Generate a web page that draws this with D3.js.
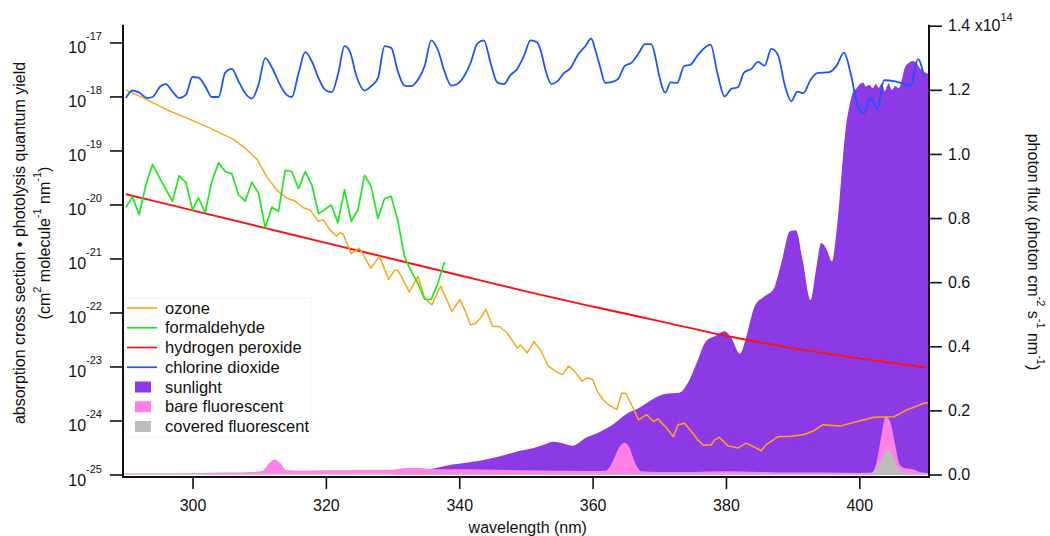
<!DOCTYPE html>
<html>
<head>
<meta charset="utf-8">
<script src="https://cdn.jsdelivr.net/npm/d3@7"></script>
<style>
  html, body { margin: 0; padding: 0; background: #fff; }
  svg { display: block; font-family: "Liberation Sans", Arial, Helvetica, sans-serif; }
</style>
</head>
<body>
<svg id="chart" width="1050" height="536"></svg>
<script>
// Absorption cross sections are stored as log10(cm^2 molecule^-1 nm^-1).
const ozoneWl = [290.0,292.7,296.2,299.7,302.7,306.2,308.2,309.7,311.1,312.6,314.1,315.4,316.6,317.6,318.9,319.6,320.6,321.6,322.1,322.6,323.8,325.0,325.6,326.7,328.0,328.5,329.4,330.3,330.8,331.4,332.5,333.8,334.8,335.9,337.2,337.9,338.9,340.1,340.9,341.7,342.5,343.2,344.0,345.0,346.0,347.2,348.7,349.2,350.2,351.2,352.2,353.4,354.7,355.5,356.4,357.3,358.4,359.2,360.0,360.7,361.6,362.3,363.6,364.4,365.0,365.8,366.9,368.1,369.1,369.8,371.1,372.1,372.8,373.8,374.8,375.8,376.6,377.8,378.3,379.0,380.3,381.8,383.0,384.2,385.3,386.0,387.8,389.8,391.7,393.0,394.5,397.2,399.7,402.2,405.2,407.2,409.7,410.3];
const ozoneLog = [-17.88,-18.03,-18.25,-18.43,-18.59,-18.80,-18.99,-19.17,-19.48,-19.73,-19.88,-19.94,-20.06,-20.10,-20.31,-20.28,-20.47,-20.59,-20.52,-20.55,-20.91,-20.81,-20.93,-21.18,-20.97,-21.10,-21.39,-21.22,-21.22,-21.35,-21.62,-21.33,-21.73,-21.86,-21.51,-21.70,-21.98,-21.76,-21.97,-22.23,-22.20,-22.10,-21.94,-22.26,-22.26,-22.38,-22.66,-22.60,-22.75,-22.54,-22.70,-23.00,-23.11,-23.15,-22.99,-23.09,-23.27,-23.21,-23.24,-23.46,-23.62,-23.70,-23.80,-23.49,-23.50,-23.70,-23.99,-23.89,-24.02,-23.97,-24.14,-24.30,-24.08,-24.05,-24.20,-24.36,-24.46,-24.45,-24.36,-24.31,-24.47,-24.51,-24.42,-24.49,-24.56,-24.45,-24.30,-24.29,-24.26,-24.20,-24.08,-24.10,-24.02,-23.94,-23.93,-23.80,-23.68,-23.67];

const formWl = [290.0,291.0,292.0,293.0,294.0,295.2,297.0,298.0,299.0,300.0,300.9,301.9,302.9,303.9,304.9,305.9,306.9,307.9,308.9,309.9,310.9,311.9,312.9,313.9,314.9,315.9,316.9,317.9,318.9,320.8,321.8,322.8,323.8,324.8,325.8,326.8,327.8,328.8,329.8,330.8,331.8,332.8,333.8,334.8,335.8,336.8,337.8];
const formLog = [-20.05,-19.86,-20.19,-19.64,-19.26,-19.54,-19.94,-19.47,-19.59,-20.10,-19.88,-20.15,-19.57,-19.23,-19.39,-19.43,-19.82,-19.94,-19.59,-19.79,-20.43,-20.05,-20.13,-19.37,-19.39,-19.71,-19.39,-19.64,-20.17,-20.01,-20.34,-19.73,-20.31,-20.10,-19.46,-19.67,-20.26,-19.89,-19.85,-20.31,-20.97,-21.24,-21.46,-21.75,-21.76,-21.46,-21.06];

const peroxWl = [290,300,310,320,330,340,350,360,370,380,390,400,410];
const peroxLog = [-19.81,-20.11,-20.41,-20.71,-21.01,-21.31,-21.61,-21.89,-22.16,-22.43,-22.66,-22.85,-23.02];

const clo2Wl = [290.0,291.0,292.0,293.2,294.0,295.2,296.0,297.0,298.0,299.0,300.0,300.9,301.9,302.9,303.9,304.9,305.9,306.9,307.9,308.9,309.9,310.9,312.1,313.1,314.1,314.9,315.9,316.9,317.9,318.9,319.9,320.9,321.8,322.8,323.6,324.6,325.8,326.8,327.8,328.8,329.8,330.8,331.8,332.8,333.8,334.8,335.8,336.8,337.8,338.8,339.7,340.7,341.7,342.7,343.7,344.7,345.7,346.7,347.7,348.7,349.7,350.7,351.7,352.2,352.9,353.8,354.7,355.7,356.7,357.9,358.9,359.8,360.4,361.1,361.9,362.9,363.8,364.8,365.9,366.9,367.9,368.8,369.4,369.9,370.9,371.7,372.7,373.7,374.7,375.8,377.7,378.7,379.8,380.8,381.8,382.7,383.8,384.8,385.8,386.8,387.8,388.8,389.8,390.7,391.6,392.7,393.7,395.5,396.6,397.7,398.7,399.7,400.7,401.7,402.7,403.7,405.4,407.7,408.8,409.7];
const clo2Log = [-18.03,-17.89,-17.93,-18.03,-18.01,-17.81,-17.77,-17.91,-18.03,-17.97,-17.64,-17.65,-17.81,-18.01,-18.01,-17.56,-17.49,-17.72,-17.94,-18.04,-17.78,-17.29,-17.51,-17.78,-17.97,-18.01,-17.57,-17.18,-17.35,-17.66,-17.88,-17.92,-17.60,-17.07,-17.17,-17.63,-17.89,-17.81,-17.66,-17.07,-17.10,-17.54,-17.80,-17.81,-17.69,-17.44,-16.96,-17.14,-17.54,-17.80,-17.77,-17.63,-17.38,-17.02,-16.96,-17.38,-17.74,-17.77,-17.60,-17.49,-17.25,-16.96,-17.00,-17.14,-17.49,-17.77,-17.72,-17.57,-17.47,-17.21,-17.07,-16.93,-17.14,-17.44,-17.75,-17.73,-17.68,-17.44,-17.37,-17.20,-17.03,-17.03,-17.26,-17.57,-17.93,-17.74,-17.75,-17.44,-17.41,-17.23,-17.04,-17.56,-18.00,-17.86,-17.83,-17.56,-17.49,-17.36,-17.43,-17.12,-17.23,-17.78,-18.09,-17.91,-17.94,-17.69,-17.57,-17.55,-17.43,-17.19,-17.57,-18.15,-18.31,-18.03,-18.23,-17.70,-17.72,-17.80,-17.31,-17.63];

// Photon flux, in units of 1e14 photon cm^-2 s^-1 nm^-1.
const sunWl = [330,333,336,339,342,344,347,349,351,353,354,355,357,359,361,363,365,367,369,371,373,374.3,375.6,377,378.3,379.8,380.8,382.1,383,384.3,385.8,387.1,388.3,389.6,390.5,391.5,392.7,393.5,394.3,395.1,395.9,396.5,397.0,397.5,398.0,398.5,399.0,399.6,400.1,400.6,401.0,401.5,402.0,402.5,402.9,403.4,403.8,404.4,404.9,405.4,405.9,406.4,406.8,407.4,408.0,408.5,408.9,409.4,410.3];
const sunFlux = [0,0.006,0.018,0.031,0.040,0.047,0.062,0.073,0.082,0.095,0.102,0.100,0.090,0.115,0.132,0.155,0.188,0.208,0.235,0.252,0.255,0.286,0.348,0.416,0.431,0.447,0.426,0.377,0.426,0.525,0.556,0.577,0.660,0.759,0.762,0.670,0.544,0.639,0.722,0.702,0.665,0.743,0.850,0.980,1.086,1.148,1.190,1.205,1.218,1.222,1.210,1.216,1.205,1.218,1.206,1.221,1.196,1.220,1.200,1.212,1.205,1.232,1.268,1.284,1.290,1.285,1.273,1.260,1.250];

const bareWl = [289.7,295,300,305,309,310.5,311.5,312.3,313.2,314,316,320,325,330,332,334,336,340,350,360,362,363,364,364.7,365.5,366.3,367.3,370,375,380,385,390,395,400,401.8,402.6,403.3,404,404.7,405.4,406.1,406.8,408,409,410.3];
const bareFlux = [0.002,0.003,0.004,0.006,0.008,0.012,0.035,0.047,0.035,0.014,0.012,0.013,0.014,0.015,0.020,0.020,0.016,0.016,0.013,0.011,0.012,0.040,0.085,0.099,0.085,0.040,0.010,0.008,0.008,0.010,0.008,0.006,0.006,0.005,0.006,0.040,0.120,0.182,0.160,0.090,0.030,0.020,0.016,0.008,0.005];

const coveredWl = [289.7,320,350,380,400,401.8,402.6,403.5,404.2,405,405.8,406.5,410.3];
const coveredFlux = [0.003,0.003,0.003,0.003,0.003,0.004,0.020,0.055,0.078,0.060,0.020,0.008,0.004];

const xTicks = [300,320,340,360,380,400];
const leftExponents = [-25,-24,-23,-22,-21,-20,-19,-18,-17];
const rightTicks = [0,0.2,0.4,0.6,0.8,1.0,1.2,1.4];

const legendItems = [
  {name: "ozone", kind: "line", color: "#ffa31a"},
  {name: "formaldehyde", kind: "line", color: "#1ee81e"},
  {name: "hydrogen peroxide", kind: "line", color: "#ff1010"},
  {name: "chlorine dioxide", kind: "line", color: "#1a55ff"},
  {name: "sunlight", kind: "area", color: "#8c3ae6"},
  {name: "bare fluorescent", kind: "area", color: "#ff80e6"},
  {name: "covered fluorescent", kind: "area", color: "#bdbdbd"}
];
const colorOf = Object.fromEntries(legendItems.map(d => [d.name, d.color]));

const svg = d3.select("#chart");
const W = 1050, H = 536;
svg.append("rect").attr("width", W).attr("height", H).attr("fill", "#fff");

const plotL = 123.5, plotR = 928, plotT = 25.7, plotB = 474.5, axisY = 477;

const x = d3.scaleLinear().domain([289.65, 410.3]).range([plotL, plotR]);
const yL = d3.scaleLog().domain([1e-25, Math.pow(10, -16.69)]).range([plotB, plotT]);
const yR = d3.scaleLinear().domain([0, 1.4]).range([plotB, plotT]);

const zip = (a, b) => a.map((w, i) => [w, b[i]]);

svg.append("clipPath").attr("id", "plotclip")
  .append("rect").attr("x", plotL).attr("y", 0).attr("width", plotR - plotL).attr("height", axisY);

const plot = svg.append("g").attr("clip-path", "url(#plotclip)");

// light sources on the right-hand axis
const area = d3.area().curve(d3.curveMonotoneX)
  .x(d => x(d[0])).y0(yR(0)).y1(d => yR(d[1]));

plot.append("path").datum(zip(sunWl, sunFlux))
  .attr("d", area).attr("fill", colorOf["sunlight"]);
plot.append("path").datum(zip(bareWl, bareFlux))
  .attr("d", area).attr("fill", colorOf["bare fluorescent"]);
plot.append("path").datum(zip(coveredWl, coveredFlux))
  .attr("d", area).attr("fill", colorOf["covered fluorescent"]);

// cross sections on the left-hand (log) axis
const line = d3.line().x(d => x(d[0])).y(d => yL(Math.pow(10, d[1])));
const smooth = d3.line().curve(d3.curveMonotoneX).x(d => x(d[0])).y(d => yL(Math.pow(10, d[1])));

plot.append("path").datum(zip(peroxWl, peroxLog))
  .attr("d", smooth).attr("fill", "none").attr("stroke", colorOf["hydrogen peroxide"]).attr("stroke-width", 1.9);
plot.append("path").datum(zip(ozoneWl, ozoneLog))
  .attr("d", line).attr("fill", "none").attr("stroke", colorOf["ozone"]).attr("stroke-width", 1.5).attr("stroke-linejoin", "round");
plot.append("path").datum(zip(formWl, formLog))
  .attr("d", line).attr("fill", "none").attr("stroke", colorOf["formaldehyde"]).attr("stroke-width", 1.7).attr("stroke-linejoin", "round");
plot.append("path").datum(zip(clo2Wl, clo2Log))
  .attr("d", smooth).attr("fill", "none").attr("stroke", colorOf["chlorine dioxide"]).attr("stroke-width", 1.8).attr("stroke-linejoin", "round");

// axes
const axisColor = "#111";
function styleAxis(g) {
  g.select(".domain").remove();
  g.selectAll(".tick line").attr("stroke", axisColor).attr("stroke-width", 1.6);
  g.selectAll(".tick text").attr("fill", "#111").attr("font-size", 16);
}

svg.append("g").attr("transform", `translate(0,${axisY})`)
  .call(d3.axisBottom(x).tickValues(xTicks).tickSize(12).tickPadding(11).tickFormat(d3.format("d")))
  .call(styleAxis);

const gl = svg.append("g").attr("transform", `translate(${plotL - 0.5},0)`)
  .call(d3.axisLeft(yL).tickValues(leftExponents.map(e => Math.pow(10, e))).tickSize(13).tickPadding(8).tickFormat(() => ""))
  .call(styleAxis);
gl.selectAll(".tick text").each(function(d) {
  const t = d3.select(this).attr("dy", null).attr("y", 10.5);
  const e = Math.round(Math.log10(d));
  t.append("tspan").text("10");
  t.append("tspan").attr("dy", -13).attr("font-size", 11).text(String(e));
});

const gr = svg.append("g").attr("transform", `translate(${plotR + 1},0)`)
  .call(d3.axisRight(yR).tickValues(rightTicks).tickSize(13).tickPadding(6).tickFormat(d3.format(".1f")))
  .call(styleAxis);
gr.selectAll(".tick text").filter(d => d === 1.4).each(function() {
  const t = d3.select(this).text("");
  t.append("tspan").text("1.4 x10");
  t.append("tspan").attr("dy", -10).attr("font-size", 11).text("14");
});

// axis frame lines
svg.append("line").attr("x1", plotL - 0.5).attr("x2", plotL - 0.5).attr("y1", plotT - 1).attr("y2", axisY + 1)
  .attr("stroke", axisColor).attr("stroke-width", 2);
svg.append("line").attr("x1", plotR + 1).attr("x2", plotR + 1).attr("y1", plotT - 1).attr("y2", axisY + 1)
  .attr("stroke", axisColor).attr("stroke-width", 2);
svg.append("line").attr("x1", plotL - 1.5).attr("x2", plotR + 2).attr("y1", axisY).attr("y2", axisY)
  .attr("stroke", axisColor).attr("stroke-width", 2);

// axis titles
svg.append("text").attr("x", (plotL + plotR) / 2 + 2).attr("y", 533)
  .attr("text-anchor", "middle").attr("font-size", 16).attr("fill", "#111").text("wavelength (nm)");

svg.append("text").attr("transform", "translate(25,243) rotate(-90)")
  .attr("text-anchor", "middle").attr("font-size", 16).attr("fill", "#111")
  .text("absorption cross section \u2022 photolysis quantum yield");

function richText(sel, parts) {
  parts.forEach(([s, sup], i) => {
    const prevSup = i > 0 && parts[i - 1][1];
    const ts = sel.append("tspan").text(s);
    if (sup) ts.attr("font-size", 11).attr("dy", -9);
    else if (prevSup) ts.attr("dy", 9);
  });
}

const lt2 = svg.append("text").attr("transform", "translate(50,243) rotate(-90)")
  .attr("text-anchor", "middle").attr("font-size", 16).attr("fill", "#111");
richText(lt2, [["(cm", 0], ["2", 1], [" molecule", 0], ["-1", 1], [" nm", 0], ["-1", 1], [")", 0]]);

const rt = svg.append("text").attr("transform", "translate(1028,252) rotate(90)")
  .attr("text-anchor", "middle").attr("font-size", 16).attr("fill", "#111");
richText(rt, [["photon flux (photon cm", 0], ["-2", 1], [" s", 0], ["-1", 1], [" nm", 0], ["-1", 1], [")", 0]]);

// legend
const lg = svg.append("g");
lg.append("rect").attr("x", 125).attr("y", 298).attr("width", 186).attr("height", 139)
  .attr("fill", "#fff").attr("stroke", "#f4f4f4");
const rowY = d3.scalePoint().domain(legendItems.map(d => d.name)).range([308, 426.5]);
legendItems.forEach(d => {
  const yy = rowY(d.name);
  if (d.kind === "line") {
    lg.append("line").attr("x1", 127).attr("x2", 157).attr("y1", yy).attr("y2", yy)
      .attr("stroke", d.color).attr("stroke-width", 1.7);
  } else {
    lg.append("rect").attr("x", 135).attr("y", yy - 5.5).attr("width", 16).attr("height", 11).attr("fill", d.color);
  }
  lg.append("text").attr("x", 165).attr("y", yy + 5.5).attr("font-size", 16.5).attr("fill", "#111").text(d.name);
});
</script>
</body>
</html>
